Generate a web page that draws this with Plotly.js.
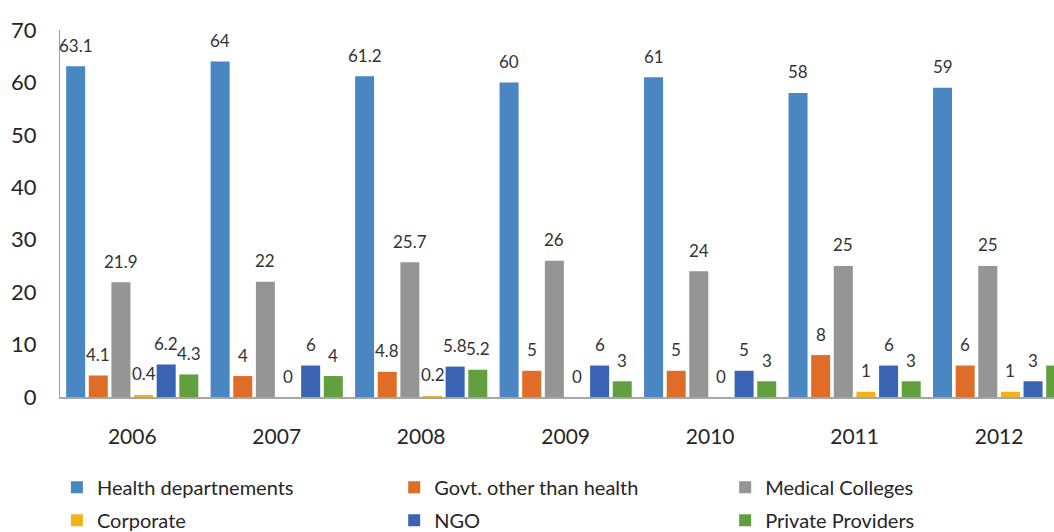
<!DOCTYPE html>
<html>
<head>
<meta charset="utf-8">
<script src="https://cdn.plot.ly/plotly-3.0.1.min.js"></script>
<style>
html,body{margin:0;padding:0;overflow:hidden;background:#fff;}
#chart{width:1054px;height:532px;}
</style>
</head>
<body>
<div id="chart"></div>
<script>
// ---- data ----
const years = ["2006", "2007", "2008", "2009", "2010", "2011", "2012"];
const seriesNames = ["Health departnements", "Govt. other than health", "Medical Colleges", "Corporate", "NGO", "Private Providers"];
const healthDepartments = [63.1, 64, 61.2, 60, 61, 58, 59];
const govtOtherThanHealth = [4.1, 4, 4.8, 5, 5, 8, 6];
const medicalColleges = [21.9, 22, 25.7, 26, 24, 25, 25];
const corporate = [0.4, 0, 0.2, 0, 0, 1, 1];
const ngo = [6.2, 6, 5.8, 6, 5, 6, 3];
const privateProviders = [4.3, 4, 5.2, 3, 3, 3, 6];
const yTicks = [0, 10, 20, 30, 40, 50, 60, 70];

// ---- styling ----
const seriesValues = [healthDepartments, govtOtherThanHealth, medicalColleges, corporate, ngo, privateProviders];
const colors = ["#4a87c2", "#e06d27", "#959595", "#f1b31c", "#3b63b3", "#62a03f"];
const legendIds = ["legend", "legend2", "legend3", "legend", "legend2", "legend3"];
const FONT = "Lato, 'Open Sans', sans-serif";
const bargap = 0.06;
const nSeries = seriesValues.length;
const xIdx = years.map((_, i) => i);

const traces = seriesValues.map((vals, s) => ({
  type: "bar",
  name: seriesNames[s],
  x: xIdx,
  y: vals,
  legend: legendIds[s],
  legendgroup: "g" + s,
  marker: { color: colors[s], line: { width: 0 } },
  hoverinfo: "skip"
}));

// data labels placed above each bar, from the same arrays
const annotations = [];
const slot = (1 - bargap) / nSeries;
seriesValues.forEach((vals, s) => {
  vals.forEach((v, j) => {
    annotations.push({
      x: j + (s - (nSeries - 1) / 2) * slot,
      y: v,
      xref: "x", yref: "y",
      text: String(v),
      showarrow: false,
      yanchor: "middle",
      yshift: 21,
      font: { family: FONT, size: 17, color: "#333333" }
    });
  });
});

function legendAt(xFrac) {
  return {
    orientation: "v",
    xref: "container",
    yref: "container",
    x: xFrac,
    y: 0.121,
    xanchor: "left",
    yanchor: "top",
    tracegroupgap: 4,
    font: { family: FONT, size: 20, color: "#262626" },
    bgcolor: "rgba(0,0,0,0)"
  };
}

const layout = {
  width: 1054,
  height: 532,
  paper_bgcolor: "#ffffff",
  plot_bgcolor: "#ffffff",
  margin: { l: 60, r: 0, t: 30, b: 135, autoexpand: false },
  barmode: "group",
  bargap: bargap,
  bargroupgap: 0.16,
  showlegend: true,
  font: { family: FONT, color: "#404040" },
  xaxis: {
    range: [-0.5, 6.38],
    tickvals: xIdx,
    ticktext: years,
    showgrid: false,
    zeroline: false,
    showline: true,
    linecolor: "#a6a6a6",
    linewidth: 1.5,
    ticks: "",
    ticklabelstandoff: 20,
    tickfont: { family: FONT, size: 21, color: "#262626" },
    fixedrange: true
  },
  yaxis: {
    range: [0, 70],
    tickvals: yTicks,
    showgrid: false,
    zeroline: false,
    showline: true,
    linecolor: "#a0a0a0",
    linewidth: 1,
    ticks: "",
    ticklabelstandoff: 18,
    tickfont: { family: FONT, size: 22, color: "#262626" },
    fixedrange: true
  },
  legend: legendAt(0.054),
  legend2: legendAt(0.374),
  legend3: legendAt(0.688),
  annotations: annotations
};

Plotly.newPlot("chart", traces, layout, { displayModeBar: false, staticPlot: true });
</script>
</body>
</html>
